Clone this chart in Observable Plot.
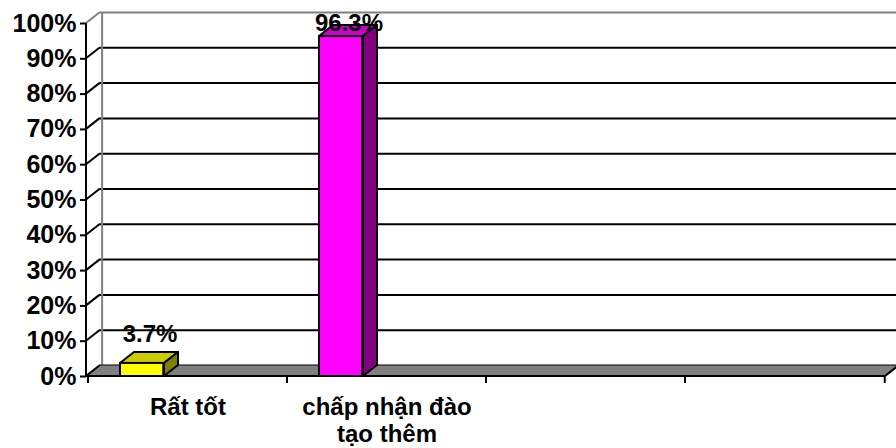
<!DOCTYPE html>
<html><head><meta charset="utf-8">
<script src="https://cdn.jsdelivr.net/npm/d3@7"></script>
<script src="https://cdn.jsdelivr.net/npm/@observablehq/plot@0.6"></script>
<style>
body{margin:0;background:#fff}
svg{font-family:Arial,"Liberation Sans",sans-serif}
</style>
</head><body><div id="chart"></div>
<script>
const categories = ["Rất tốt", "chấp nhận đào\ntạo thêm", " ", "  "];
const values = [0.037, 0.963, null, null];
const valueLabels = ["3.7%", "96.3%", "", ""];
const frontColors = ["#ffff00", "#ff00ff", null, null];
const topColors = ["#cccc00", "#cc00cc", null, null];
const sideColors = ["#808000", "#800080", null, null];
const yTicks = [0, 0.1, 0.2, 0.3, 0.4, 0.5, 0.6, 0.7, 0.8, 0.9, 1];

const bars = categories.map((c, i) => ({cat: c, value: values[i], label: valueLabels[i],
  front: frontColors[i], top: topColors[i], side: sideColors[i]})).filter(d => d.value != null);

const W = 896, H = 448, ML = 86, MR = 11, MT = 23, MB = 72;
const DX = 14, DY = -11;          // 3D depth offset
const bw = (W - ML - MR) / categories.length;
const barL = 32, barW = 44;       // bar position inside its band

function decor(index, scales, vals, dims) {
  const g = d3.create("svg:g");
  const x0 = dims.marginLeft, x1 = dims.width - dims.marginRight;
  const y0 = scales.y(0);
  g.append("path")
    .attr("d", `M${x0},${y0}L${x1},${y0}L${x1 + DX},${y0 + DY}L${x0 + DX},${y0 + DY}Z`)
    .attr("fill", "#808080").attr("stroke", "#000").attr("stroke-width", 1);
  for (const t of yTicks) {
    const y = scales.y(t);
    g.append("line").attr("x1", x0).attr("y1", y).attr("x2", x0 + DX).attr("y2", y + DY)
      .attr("stroke", t === 1 ? "#808080" : "#000").attr("stroke-width", 2);
  }
  g.append("line").attr("x1", x0).attr("x2", x0).attr("y1", scales.y(1)).attr("y2", y0)
    .attr("stroke", "#000").attr("stroke-width", 2);
  g.append("line").attr("x1", x0).attr("x2", x1).attr("y1", y0).attr("y2", y0)
    .attr("stroke", "#000").attr("stroke-width", 2);
  for (let i = 0; i <= categories.length; i++) {
    const x = i < categories.length ? scales.x(categories[i]) : scales.x(categories[i - 1]) + bw;
    g.append("line").attr("x1", x).attr("x2", x).attr("y1", y0).attr("y2", y0 + 7)
      .attr("stroke", "#000").attr("stroke-width", 2);
  }
  g.append("line").attr("x1", x1).attr("y1", y0).attr("x2", x1 + DX).attr("y2", y0 + DY)
    .attr("stroke", "#000").attr("stroke-width", 2);
  return g.node();
}

function faces(index, scales, vals, dims) {
  const g = d3.create("svg:g");
  for (const d of bars) {
    const xl = scales.x(d.cat) + barL, xr = xl + barW;
    const yt = scales.y(d.value), yb = scales.y(0);
    g.append("path")
      .attr("d", `M${xl},${yt}L${xl + DX},${yt + DY}L${xr + DX},${yt + DY}L${xr},${yt}Z`)
      .attr("fill", d.top).attr("stroke", "#000").attr("stroke-width", 2).attr("stroke-linejoin", "round");
    g.append("path")
      .attr("d", `M${xr},${yt}L${xr + DX},${yt + DY}L${xr + DX},${yb + DY}L${xr},${yb}Z`)
      .attr("fill", d.side).attr("stroke", "#000").attr("stroke-width", 2).attr("stroke-linejoin", "round");
  }
  return g.node();
}

const chart = Plot.plot({
  width: W, height: H,
  marginLeft: ML, marginRight: MR, marginTop: MT, marginBottom: MB,
  x: {domain: categories, padding: 0},
  y: {domain: [0, 1]},
  color: {type: "identity"},
  marks: [
    Plot.ruleY(yTicks.filter(t => t > 0 && t < 1), {dx: DX, dy: DY, stroke: "#000", strokeWidth: 2}),
    Plot.ruleY([1], {dx: DX, dy: DY, stroke: "#808080", strokeWidth: 2}),
    Plot.ruleX([categories[0]], {dx: DX - bw / 2, dy: DY, stroke: "#808080", strokeWidth: 2}),
    decor,
    faces,
    Plot.barY(bars, {x: "cat", y: "value", fill: "front", stroke: "#000", strokeWidth: 2,
      insetLeft: barL, insetRight: bw - barL - barW}),
    Plot.axisY({ticks: yTicks, tickFormat: d3.format(".0%"), tickSize: 6, tickPadding: 4,
      fontSize: 25, fontWeight: "bold", label: null, strokeWidth: 2, fill: "#000"}),
    Plot.axisX({tickSize: 0, tickPadding: 20, label: null, fontSize: 24, fontWeight: "bold",
      lineHeight: 1.1, fill: "#000"}),
    Plot.text(bars, {x: "cat", y: d => Math.min(d.value + 0.082, 1), text: "label", dx: -38,
      fontSize: 24, fontWeight: "bold", fill: "#000"})
  ]
});
document.getElementById("chart").append(chart);
</script>
</body></html>
